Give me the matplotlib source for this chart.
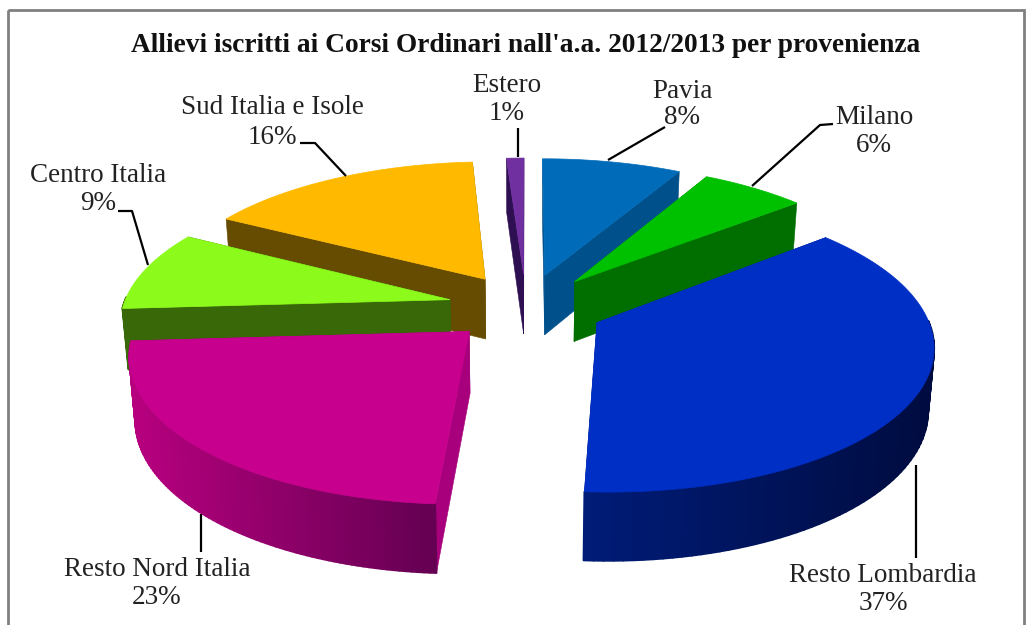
import numpy as np
import matplotlib
matplotlib.use("Agg")
import matplotlib.pyplot as plt
from matplotlib.patches import Polygon, Rectangle

# ---- data ----
categories = ["Pavia", "Milano", "Resto Lombardia", "Resto Nord Italia",
              "Centro Italia", "Sud Italia e Isole", "Estero"]
shares = [8, 6, 37, 23, 9, 16, 1]

# ---- style ----
top_colors = ["#006cb9", "#00c100", "#002fc5", "#c8008e", "#8cfb1c", "#ffba00", "#7030a0"]
cut_colors = ["#00508c", "#006f00", "#001a70", "#a8007c", "#386808", "#654c00", "#2e0f52"]
rim_light = ["#00508c", "#006f00", "#001c78", "#b8007f", "#386808", "#654c00", "#2e0f52"]
rim_dark = ["#00508c", "#006f00", "#000c40", "#640052", "#386808", "#654c00", "#2e0f52"]
draw_order = [0, 6, 5, 1, 4, 3, 2]
explode_amount = 0.24
label_anchor = {
    "Estero": (507, 85, 114), "Pavia": (682, 91, 118), "Milano": (874, 117, 146),
    "Sud Italia e Isole": (272, 108, 137), "Centro Italia": (98, 176, 204),
    "Resto Nord Italia": (157, 569, 598), "Resto Lombardia": (883, 576, 604),
}
leaders = [
    [(518, 128), (518, 157)],
    [(665, 127), (608, 160)],
    [(833, 124), (820, 125), (752, 186)],
    [(300, 143), (315, 143), (346, 176)],
    [(118, 211), (132, 211), (148, 265)],
    [(201, 514), (201, 552)],
    [(916, 465), (916, 558)],
]

# ---- projection of the pie plane to the page ----
CX, CY, AX_, BY_, K, DEPTH, CONVERGE = 526, 307, 327, 141, 0.14, 61, 0.985


def project(x, y, drop=0.0):
    s = 1.0 / (1.0 + K * y)
    sx = CX + AX_ * x * s
    sy = CY - BY_ * y * s
    if drop:
        sx = CX + (sx - CX) * CONVERGE
        sy = sy + drop * DEPTH * s ** 0.7
    return sx, sy


plt.rcParams["font.family"] = ["Liberation Serif", "DejaVu Serif"]
fig = plt.figure(figsize=(10.29, 6.25), dpi=100, facecolor="white")

# The slice angles and offsets come from the library's own pie layout.
helper = fig.add_axes([0, 0, 0.01, 0.01])
wedges, _ = helper.pie(shares, explode=[explode_amount] * len(shares),
                       startangle=90, counterclock=False)
geometry = [(w.center, w.theta1, w.theta2, w.r) for w in wedges]
helper.remove()

ax = fig.add_axes([0, 0, 1, 1])
ax.set_xlim(0, 1029)
ax.set_ylim(625, 0)
ax.axis("off")

ax.add_patch(Rectangle((8, 10), 1016, 640, fill=False, ec="#808080", lw=2, zorder=1))

z = 2
for i in draw_order:
    (c, t1, t2, r) = geometry[i]
    ang = np.radians(np.linspace(t1, t2, 90))
    gx = c[0] + r * np.cos(ang)
    gy = c[1] + r * np.sin(ang)
    sx, sy = project(gx, gy)
    bx, by = project(gx, gy, 1.0)
    ax0, ay0 = project(c[0], c[1])
    bx0, by0 = project(c[0], c[1], 1.0)

    # front-facing radial cut faces
    for (px, py, qx, qy) in [(sx[0], sy[0], bx[0], by[0]), (sx[-1], sy[-1], bx[-1], by[-1])]:
        quad = [(ax0, ay0), (px, py), (qx, qy), (bx0, by0)]
        ax.add_patch(Polygon(quad, closed=True, fc=cut_colors[i], ec=cut_colors[i], lw=0.4, zorder=z))
    z += 1

    # outer rim: only the part of the arc that faces the viewer
    light = np.array(matplotlib.colors.to_rgb(rim_light[i]))
    dark = np.array(matplotlib.colors.to_rgb(rim_dark[i]))
    span = max(sx.max() - sx.min(), 1)
    for j in range(len(ang) - 1):
        if np.sin(0.5 * (ang[j] + ang[j + 1])) < 0.02:
            t = (0.5 * (sx[j] + sx[j + 1]) - sx.min()) / span
            col = light + (dark - light) * t
            quad = [(sx[j], sy[j]), (sx[j + 1], sy[j + 1]), (bx[j + 1], by[j + 1]), (bx[j], by[j])]
            ax.add_patch(Polygon(quad, closed=True, fc=col, ec=col, lw=1.4, zorder=z, joinstyle="round"))
    z += 1

    top = [(ax0, ay0)] + list(zip(sx, sy))
    ax.add_patch(Polygon(top, closed=True, fc=top_colors[i], ec=top_colors[i], lw=0.5, zorder=z))
    z += 1

for pts in leaders:
    xs, ys = zip(*pts)
    ax.plot(xs, ys, color="black", lw=1.6, zorder=z, solid_capstyle="butt")

for name, val in zip(categories, shares):
    x, y1, y2 = label_anchor[name]
    ax.text(x, y1, name, ha="center", va="center", fontsize=19.5, color="#222222", zorder=z + 1)
    ax.text(x, y2, f"{val}%", ha="center", va="center", fontsize=19.5, color="#222222", zorder=z + 1)

ax.text(526, 45, "Allievi iscritti ai Corsi Ordinari nall'a.a. 2012/2013 per provenienza",
        ha="center", va="center", fontsize=19.7, fontweight="bold", color="#111111", zorder=z + 1)

fig.savefig("out.png", dpi=100)
